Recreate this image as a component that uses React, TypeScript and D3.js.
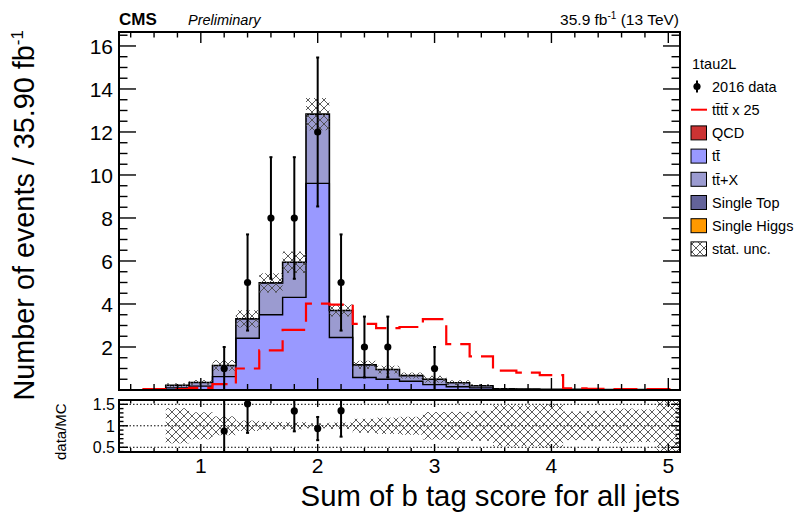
import React from "react";
import * as d3 from "d3";

// ---- data (bin centers, bin width 0.2) ----
const binCenters = [0.4, 0.6, 0.8, 1.0, 1.2, 1.4, 1.6, 1.8, 2.0, 2.2, 2.4, 2.6, 2.8, 3.0, 3.2, 3.4, 3.6, 3.8, 4.0, 4.2, 4.4, 4.6, 4.8, 5.0];
const ttbar = [0, 0, 0.10, 0.18, 0.62, 2.41, 3.50, 4.31, 9.61, 2.44, 0.58, 0.50, 0.41, 0.25, 0.15, 0.10, 0.03, 0.02, 0.015, 0.015, 0.01, 0.01, 0.01, 0.005];
const ttX = [0, 0, 0.115, 0.16, 0.50, 0.87, 1.44, 1.58, 3.16, 1.23, 0.57, 0.44, 0.25, 0.24, 0.185, 0.095, 0.018, 0.018, 0.014, 0.014, 0.009, 0.009, 0.009, 0.004];
const singleTop = [0, 0, 0.005, 0.01, 0.02, 0.03, 0.04, 0.05, 0.06, 0.03, 0.02, 0.01, 0.01, 0.01, 0.005, 0.005, 0.002, 0.002, 0.001, 0.001, 0.001, 0.001, 0.001, 0.001];
const qcd = [0, 0, 0, 0, 0, 0, 0, 0, 0, 0, 0, 0, 0, 0, 0, 0, 0, 0, 0, 0, 0, 0, 0, 0];
const singleHiggs = [0, 0, 0, 0, 0, 0, 0, 0, 0, 0, 0, 0, 0, 0, 0, 0, 0, 0, 0, 0, 0, 0, 0, 0];
const statUnc = [0, 0, 0.09, 0.11, 0.25, 0.40, 0.45, 0.50, 0.75, 0.28, 0.19, 0.18, 0.14, 0.16, 0.11, 0.07, 0.024, 0.019, 0.015, 0.01, 0.007, 0.008, 0.0076, 0.01];
const signalX25 = [0, 0.03, 0.03, 0.10, 0.27, 1.00, 1.84, 2.80, 4.02, 3.97, 3.08, 2.88, 2.93, 3.30, 2.13, 1.56, 0.90, 0.81, 0.69, 0.08, 0.05, 0.04, 0.04, 0.03];
const data2016 = [0, 0, 0, 0, 1, 5, 8, 8, 12, 5, 2, 2, 0, 1, 0, 0, 0, 0, 0, 0, 0, 0, 0, 0];

const xTickLabels = [1, 2, 3, 4, 5];
const yTickLabels = [2, 4, 6, 8, 10, 12, 14, 16];
const ratioTickLabels = [0.5, 1, 1.5];

const BW = 0.2;
const FONT = "'Liberation Sans', Arial, Helvetica, sans-serif";
const C_TT = "#9999ff";
const C_TTX = "#9b9bd0";
const C_ST = "#63639a";
const C_QCD = "#cc3333";
const C_SH = "#ff9900";

const stackComponents = [
  { name: "tt", values: ttbar, color: C_TT },
  { name: "ttX", values: ttX, color: C_TTX },
  { name: "st", values: singleTop, color: C_ST },
  { name: "qcd", values: qcd, color: C_QCD },
  { name: "sh", values: singleHiggs, color: C_SH },
];

export default function App() {
  const x = d3.scaleLinear().domain([0.3, 5.1]).range([119, 680]);
  const y = d3.scaleLinear().domain([0, 16.65]).range([390, 32]);
  const r = d3.scaleLinear().domain([0.39, 1.6]).range([452, 400]);

  // cumulative stack
  const cum: number[][] = [];
  let base = binCenters.map(() => 0);
  stackComponents.forEach((c) => {
    const top = base.map((b, i) => b + c.values[i]);
    cum.push(top);
    base = top;
  });
  const total = base;

  const stepPath = (vals: number[], startIdx: number, endIdx: number, ys: (v: number) => number) => {
    let d = `M${x(binCenters[startIdx] - BW / 2)},${ys(0)}`;
    for (let i = startIdx; i <= endIdx; i++) {
      d += `L${x(binCenters[i] - BW / 2)},${ys(vals[i])}L${x(binCenters[i] + BW / 2)},${ys(vals[i])}`;
    }
    d += `L${x(binCenters[endIdx] + BW / 2)},${ys(0)}`;
    return d;
  };
  const sigPath = () => {
    let d = "";
    let started = false;
    binCenters.forEach((c, i) => {
      if (i === 0) return;
      const x0 = x(c - BW / 2), x1 = x(c + BW / 2), yy = Math.min(y(signalX25[i]), 389);
      d += (started ? "L" : "M") + `${x0},${yy}L${x1},${yy}`;
      started = true;
    });
    return d;
  };

  const xMinor = d3.range(4, 51, 2).map((v) => v / 10).filter((v) => Math.abs(v - Math.round(v)) > 1e-6);
  const yMinor = d3.range(1, 34).map((v) => v * 0.5).filter((v) => v % 2 !== 0);
  const rMinor = d3.range(4, 17).map((v) => v / 10).filter((v) => Math.abs(v * 2 - Math.round(v * 2)) > 1e-6);

  const X0 = 119, X1 = 680, MT = 32, MB = 390, RT = 400, RB = 452;

  const legendItems = [
    { type: "data", label: "2016 data" },
    { type: "line", label: "t\u0074\u0304t\u0074\u0304 x 25" },
    { type: "box", color: C_QCD, label: "QCD" },
    { type: "box", color: C_TT, label: "t\u0074\u0304" },
    { type: "box", color: C_TTX, label: "t\u0074\u0304+X" },
    { type: "box", color: C_ST, label: "Single Top" },
    { type: "box", color: C_SH, label: "Single Higgs" },
    { type: "hatch", label: "stat. unc." },
  ];

  return (
    <svg width={797} height={512} style={{ display: "block", position: "absolute", left: 0, top: 0, background: "#fff" }} fontFamily={FONT}>
      <defs>
        <pattern id="xh" width="8" height="8" patternUnits="userSpaceOnUse">
          <path d="M-1,-1L9,9M9,-1L-1,9" stroke="#4a4a4a" strokeWidth="0.9" fill="none" />
        </pattern>
        <clipPath id="mainClip"><rect x={X0} y={MT} width={X1 - X0} height={MB - MT} /></clipPath>
        <clipPath id="ratioClip"><rect x={X0} y={RT} width={X1 - X0} height={RB - RT} /></clipPath>
      </defs>
      <rect x={0} y={0} width={797} height={512} fill="#fff" />

      {/* ---- main panel ---- */}
      <g clipPath="url(#mainClip)">
        <g shapeRendering="crispEdges">
          {stackComponents.map((c, k) =>
            binCenters.map((bc, i) => {
              const lo = k === 0 ? 0 : cum[k - 1][i];
              const hi = cum[k][i];
              if (hi - lo <= 0) return null;
              return (
                <rect key={`${c.name}-${i}`} x={x(bc - BW / 2)} y={y(hi)} width={x(bc + BW / 2) - x(bc - BW / 2) + 0.6} height={y(lo) - y(hi)} fill={c.color} />
              );
            })
          )}
        </g>
        <path d={stepPath(cum[0], 2, 23, y)} fill="none" stroke="#000" strokeWidth={1.4} />
        <path d={stepPath(total, 2, 23, y)} fill="none" stroke="#000" strokeWidth={1.6} />
        {binCenters.map((bc, i) =>
          total[i] > 0 ? (
            <rect key={`h-${i}`} x={x(bc - BW / 2)} y={y(total[i] + statUnc[i])} width={x(bc + BW / 2) - x(bc - BW / 2)} height={y(total[i] - statUnc[i]) - y(total[i] + statUnc[i])} fill="url(#xh)" />
          ) : null
        )}
        <path d={sigPath()} fill="none" stroke="#ff0000" strokeWidth={2.2} strokeDasharray="24 9" />
        {binCenters.map((bc, i) => {
          const n = data2016[i];
          if (n <= 0) return null;
          const e = Math.sqrt(n);
          const cx = x(bc);
          return (
            <g key={`d-${i}`}>
              <line x1={cx} x2={cx} y1={y(n + e)} y2={y(Math.max(0, n - e))} stroke="#000" strokeWidth={2} />
              <line x1={cx - 1.5} x2={cx + 1.5} y1={y(n + e)} y2={y(n + e)} stroke="#000" strokeWidth={2} />
              <line x1={cx - 1.5} x2={cx + 1.5} y1={y(n - e)} y2={y(n - e)} stroke="#000" strokeWidth={2} />
              <circle cx={cx} cy={y(n)} r={3.6} fill="#000" />
            </g>
          );
        })}
      </g>
      {/* main ticks */}
      <g stroke="#000" strokeWidth={1.4}>
        {xTickLabels.map((t) => (
          <g key={`mx${t}`}>
            <line x1={x(t)} x2={x(t)} y1={MB} y2={MB - 12} />
            <line x1={x(t)} x2={x(t)} y1={MT} y2={MT + 11} />
          </g>
        ))}
        {xMinor.map((t) => (
          <g key={`mxm${t}`}>
            <line x1={x(t)} x2={x(t)} y1={MB} y2={MB - 6} />
            <line x1={x(t)} x2={x(t)} y1={MT} y2={MT + 5.5} />
          </g>
        ))}
        {yTickLabels.map((t) => (
          <g key={`my${t}`}>
            <line x1={X0} x2={X0 + 17} y1={y(t)} y2={y(t)} />
            <line x1={X1} x2={X1 - 17} y1={y(t)} y2={y(t)} />
          </g>
        ))}
        {yMinor.map((t) => (
          <g key={`mym${t}`}>
            <line x1={X0} x2={X0 + 8.5} y1={y(t)} y2={y(t)} />
            <line x1={X1} x2={X1 - 8.5} y1={y(t)} y2={y(t)} />
          </g>
        ))}
      </g>
      <rect x={X0} y={MT} width={X1 - X0} height={MB - MT} fill="none" stroke="#000" strokeWidth={2} />
      {yTickLabels.map((t) => (
        <text key={`yl${t}`} x={113} y={y(t)} dy="0.36em" textAnchor="end" fontSize={21} fill="#000">{t}</text>
      ))}

      {/* ---- ratio panel ---- */}
      <g clipPath="url(#ratioClip)">
        {binCenters.map((bc, i) => {
          if (total[i] <= 0) return null;
          const rel = statUnc[i] / total[i];
          return (
            <rect key={`rh-${i}`} x={x(bc - BW / 2)} y={r(1 + rel)} width={x(bc + BW / 2) - x(bc - BW / 2)} height={r(1 - rel) - r(1 + rel)} fill="url(#xh)" />
          );
        })}
        {ratioTickLabels.map((t) => (
          <line key={`rg${t}`} x1={X0} x2={X1} y1={r(t)} y2={r(t)} stroke="#000" strokeWidth={1} strokeDasharray="1.5 2" />
        ))}
        {binCenters.map((bc, i) => {
          const n = data2016[i];
          if (n <= 0 || total[i] <= 0) return null;
          const ratio = n / total[i];
          if (ratio < 0.39 || ratio > 1.6) return null;
          const e = Math.sqrt(n) / total[i];
          const cx = x(bc);
          return (
            <g key={`rd-${i}`}>
              <line x1={cx} x2={cx} y1={r(ratio + e)} y2={r(ratio - e)} stroke="#000" strokeWidth={2} />
              <line x1={cx - 1.5} x2={cx + 1.5} y1={r(ratio + e)} y2={r(ratio + e)} stroke="#000" strokeWidth={2} />
              <line x1={cx - 1.5} x2={cx + 1.5} y1={r(ratio - e)} y2={r(ratio - e)} stroke="#000" strokeWidth={2} />
              <circle cx={cx} cy={r(ratio)} r={3.6} fill="#000" />
            </g>
          );
        })}
      </g>
      <g stroke="#000" strokeWidth={1.4}>
        {xTickLabels.map((t) => (
          <g key={`rx${t}`}>
            <line x1={x(t)} x2={x(t)} y1={RB} y2={RB - 8} />
            <line x1={x(t)} x2={x(t)} y1={RT} y2={RT + 7} />
          </g>
        ))}
        {xMinor.map((t) => (
          <g key={`rxm${t}`}>
            <line x1={x(t)} x2={x(t)} y1={RB} y2={RB - 4} />
            <line x1={x(t)} x2={x(t)} y1={RT} y2={RT + 3.5} />
          </g>
        ))}
        {ratioTickLabels.map((t) => (
          <g key={`ry${t}`}>
            <line x1={X0} x2={X0 + 9} y1={r(t)} y2={r(t)} />
            <line x1={X1} x2={X1 - 9} y1={r(t)} y2={r(t)} />
          </g>
        ))}
        {rMinor.map((t) => (
          <g key={`rym${t}`}>
            <line x1={X0} x2={X0 + 4.5} y1={r(t)} y2={r(t)} />
            <line x1={X1} x2={X1 - 4.5} y1={r(t)} y2={r(t)} />
          </g>
        ))}
      </g>
      <rect x={X0} y={RT} width={X1 - X0} height={RB - RT} fill="none" stroke="#000" strokeWidth={2} />
      {ratioTickLabels.map((t) => (
        <text key={`rl${t}`} x={115} y={r(t)} dy="0.36em" textAnchor="end" fontSize={16} fill="#000">{t}</text>
      ))}
      {xTickLabels.map((t) => (
        <text key={`xl${t}`} x={x(t)} y={473} textAnchor="middle" fontSize={21} fill="#000">{t}</text>
      ))}

      {/* ---- titles ---- */}
      <text x={680} y={506} textAnchor="end" fontSize={29.3} fill="#000">Sum of b tag score for all jets</text>
      <text transform="translate(33.5,30) rotate(-90)" textAnchor="end" fontSize={28.8} fill="#000">
        Number of events / 35.90 fb<tspan dy={-11} fontSize={17}>-1</tspan>
      </text>
      <text transform="translate(66,431.7) rotate(-90)" textAnchor="middle" fontSize={15} fill="#000">data/MC</text>
      <text x={119} y={25} fontSize={17} fontWeight="bold" fill="#000">CMS</text>
      <text x={188} y={25} fontSize={14.5} fontStyle="italic" fill="#000">Preliminary</text>
      <text x={679} y={25} textAnchor="end" fontSize={15.5} fill="#000">
        35.9 fb<tspan dy={-6} fontSize={10}>-1</tspan><tspan dy={6}> (13 TeV)</tspan>
      </text>

      {/* ---- legend ---- */}
      <text x={692} y={63.5} dy="0.36em" fontSize={14.5} fill="#000">1tau2L</text>
      {legendItems.map((it, k) => {
        const cy = 86.5 + 23.2 * k;
        let sym: React.ReactNode = null;
        if (it.type === "data") {
          sym = (
            <g>
              <line x1={697} x2={697} y1={cy - 6} y2={cy + 6} stroke="#000" strokeWidth={2} />
              <circle cx={697} cy={cy} r={3.6} fill="#000" />
            </g>
          );
        } else if (it.type === "line") {
          sym = <line x1={691} x2={707} y1={cy} y2={cy} stroke="#ff0000" strokeWidth={2} />;
        } else if (it.type === "box") {
          sym = <rect x={691} y={cy - 7} width={15.5} height={14} fill={it.color} stroke="#000" strokeWidth={1} />;
        } else {
          sym = <rect x={691} y={cy - 7} width={15.5} height={14} fill="url(#xh)" stroke="#000" strokeWidth={1} />;
        }
        return (
          <g key={`lg${k}`}>
            {sym}
            <text x={712} y={cy} dy="0.36em" fontSize={14.5} fill="#000">{it.label}</text>
          </g>
        );
      })}
    </svg>
  );
}
